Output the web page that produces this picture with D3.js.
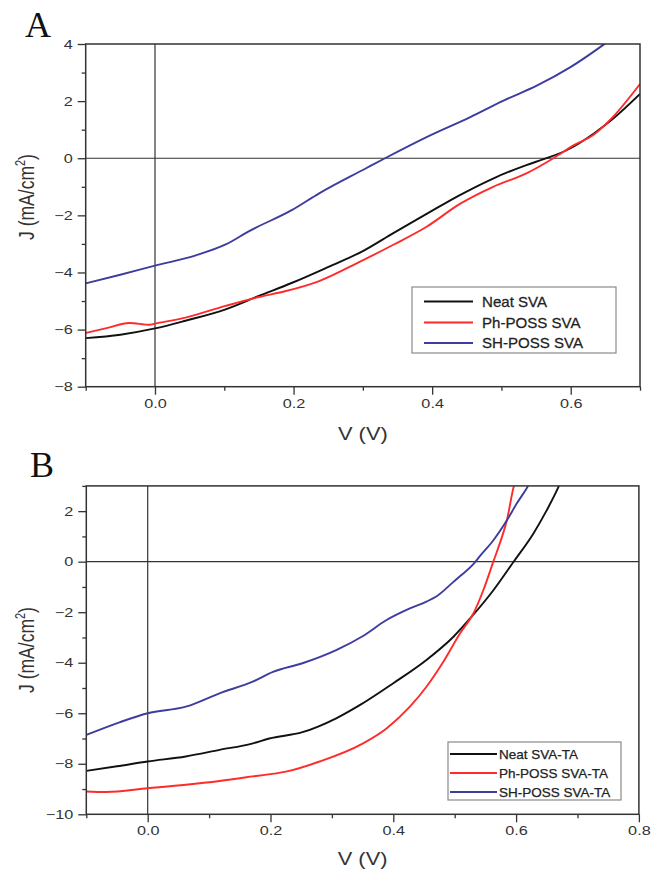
<!DOCTYPE html>
<html>
<head>
<meta charset="utf-8">
<script src="https://cdn.jsdelivr.net/npm/d3@7/dist/d3.min.js"></script>
<style>
  html, body { margin: 0; padding: 0; background: #fff; }
  svg { display: block; }
  text { font-family: "Liberation Sans", Arial, Helvetica, sans-serif; }
</style>
</head>
<body>
<svg id="chart" width="651" height="870"></svg>
<script>
// ---- Panel A: J–V curves after solvent vapour annealing ----
const seriesNamesA = ["Neat SVA", "Ph-POSS SVA", "SH-POSS SVA"];
const neatSvaV = [-0.1, -0.05, 0, 0.044, 0.102, 0.15, 0.198, 0.247, 0.30, 0.344, 0.392, 0.44, 0.488, 0.536, 0.565, 0.594, 0.633, 0.661, 0.7];
const neatSvaJ = [-6.30, -6.18, -5.96, -5.69, -5.29, -4.82, -4.36, -3.84, -3.25, -2.62, -1.95, -1.29, -0.71, -0.24, 0.0, 0.28, 0.86, 1.38, 2.25];
const phSvaV = [-0.1, -0.07, -0.037, -0.008, 0, 0.044, 0.102, 0.15, 0.189, 0.237, 0.296, 0.344, 0.392, 0.44, 0.488, 0.536, 0.575, 0.604, 0.633, 0.661, 0.7];
const phSvaJ = [-6.12, -5.95, -5.77, -5.83, -5.79, -5.58, -5.17, -4.86, -4.65, -4.30, -3.62, -3.03, -2.40, -1.60, -1.00, -0.53, 0.0, 0.45, 0.82, 1.45, 2.6];
const shSvaV = [-0.1, -0.05, 0, 0.059, 0.102, 0.136, 0.198, 0.237, 0.304, 0.332, 0.392, 0.455, 0.503, 0.551, 0.599, 0.647, 0.66];
const shSvaJ = [-4.38, -4.08, -3.76, -3.40, -3.02, -2.55, -1.81, -1.23, -0.36, 0.0, 0.74, 1.44, 2.02, 2.54, 3.18, 3.97, 4.2];

// ---- Panel B: J–V curves after solvent vapour + thermal annealing ----
const seriesNamesB = ["Neat SVA-TA", "Ph-POSS SVA-TA", "SH-POSS SVA-TA"];
const neatTaV = [-0.1, -0.05, 0, 0.062, 0.117, 0.17, 0.198, 0.252, 0.307, 0.346, 0.40, 0.454, 0.498, 0.530, 0.563, 0.596, 0.628, 0.650, 0.669, 0.675];
const neatTaJ = [-8.28, -8.1, -7.91, -7.71, -7.45, -7.2, -7.0, -6.75, -6.2, -5.67, -4.81, -3.89, -2.97, -2.11, -1.13, 0.0, 1.11, 2.04, 2.96, 3.3];
const phTaV = [-0.1, -0.068, 0, 0.062, 0.117, 0.171, 0.225, 0.28, 0.35, 0.389, 0.427, 0.454, 0.4815, 0.5086, 0.5304, 0.5466, 0.5629, 0.5792, 0.5846, 0.5968, 0.603];
const phTaJ = [-9.1, -9.12, -8.97, -8.83, -8.68, -8.5, -8.31, -7.91, -7.2, -6.6, -5.74, -4.95, -3.96, -2.84, -2.05, -1.13, 0.0, 1.15, 1.6, 3.03, 3.4];
const shTaV = [-0.1, -0.046, 0, 0.062, 0.117, 0.171, 0.204, 0.252, 0.307, 0.35, 0.389, 0.427, 0.454, 0.470, 0.498, 0.509, 0.530, 0.541, 0.563, 0.585, 0.601, 0.620, 0.626];
const shTaJ = [-6.86, -6.36, -6.0, -5.74, -5.21, -4.75, -4.36, -4.02, -3.5, -2.95, -2.31, -1.85, -1.58, -1.38, -0.8, -0.57, -0.11, 0.22, 0.85, 1.64, 2.3, 3.02, 3.3];

// ---- Axis ticks ----
const xMajorA = [0.0, 0.2, 0.4, 0.6];
const xMinorA = [-0.1, 0.1, 0.3, 0.5, 0.7];
const yMajorA = [-8, -6, -4, -2, 0, 2, 4];
const yMinorA = [-7, -5, -3, -1, 1, 3];
const xMajorB = [0.0, 0.2, 0.4, 0.6, 0.8];
const xMinorB = [-0.1, 0.1, 0.3, 0.5, 0.7];
const yMajorB = [-10, -8, -6, -4, -2, 0, 2];
const yMinorB = [-9, -7, -5, -3, -1, 1, 3];

const seriesColors = ["#111111", "#ff2b2b", "#3d3d9e"];
const ink = "#333333";
const svg = d3.select("#chart");

function zip(vs, js) { return vs.map((v, i) => ({ v: v, j: js[i] })); }

function drawPanel(p) {
  const x = d3.scaleLinear().domain(p.xDomain).range([p.left, p.right]);
  const y = d3.scaleLinear().domain(p.yDomain).range([p.bottom, p.top]);
  const g = svg.append("g");

  // clip for the curves
  const clipId = "clip-" + p.id;
  svg.append("defs").append("clipPath").attr("id", clipId)
    .append("rect").attr("x", p.left).attr("y", p.top)
    .attr("width", p.right - p.left).attr("height", p.bottom - p.top);

  // zero lines
  g.append("line").attr("x1", p.left).attr("x2", p.right)
    .attr("y1", y(0)).attr("y2", y(0)).attr("stroke", ink).attr("stroke-width", 1.2);
  g.append("line").attr("x1", x(0)).attr("x2", x(0))
    .attr("y1", p.top).attr("y2", p.bottom).attr("stroke", ink).attr("stroke-width", 1.2);

  // curves
  const line = d3.line().x(d => x(d.v)).y(d => y(d.j)).curve(d3.curveMonotoneX);
  const curves = g.append("g").attr("clip-path", `url(#${clipId})`);
  p.series.forEach((s, i) => {
    curves.append("path").datum(s).attr("d", line)
      .attr("fill", "none").attr("stroke", seriesColors[i])
      .attr("stroke-width", 1.9).attr("stroke-linejoin", "round");
  });

  // axes: major ticks with labels, minor ticks without
  const xAxis = d3.axisBottom(x).tickValues(p.xMajor).tickFormat(d3.format(".1f"))
    .tickSize(8).tickPadding(4);
  const xAxisMinor = d3.axisBottom(x).tickValues(p.xMinor).tickFormat("").tickSize(4);
  const yAxis = d3.axisLeft(y).tickValues(p.yMajor).tickFormat(d3.format("d"))
    .tickSize(8).tickPadding(5);
  const yAxisMinor = d3.axisLeft(y).tickValues(p.yMinor).tickFormat("").tickSize(4);

  [[xAxis, "b"], [xAxisMinor, "b"], [yAxis, "l"], [yAxisMinor, "l"]].forEach(([ax, side]) => {
    const a = g.append("g")
      .attr("transform", side === "b" ? `translate(0,${p.bottom})` : `translate(${p.left},0)`)
      .call(ax);
    a.select(".domain").remove();
    a.selectAll(".tick line").attr("stroke", ink).attr("stroke-width", 1.3);
    a.selectAll(".tick text")
      .attr("fill", ink)
      .style("font-size", "12.5px")
      .attr("transform", "scale(1.3,1)");
    if (side === "l") a.selectAll(".tick text").attr("x", -13 / 1.3);
  });

  // frame
  g.append("rect").attr("x", p.left).attr("y", p.top)
    .attr("width", p.right - p.left).attr("height", p.bottom - p.top)
    .attr("fill", "none").attr("stroke", ink).attr("stroke-width", 1.5);

  // axis titles
  g.append("text")
    .attr("transform", `translate(${(p.left + p.right) / 2},${p.xTitleY}) scale(1.25,1)`)
    .attr("text-anchor", "middle").attr("fill", ink).style("font-size", "17.5px")
    .text("V (V)");
  const yt = g.append("text")
    .attr("transform", `translate(34,${p.yTitleY}) scale(1.25,1) rotate(-90)`)
    .attr("text-anchor", "middle").attr("fill", ink).style("font-size", "17.5px");
  yt.append("tspan").text("J (mA/cm");
  yt.append("tspan").attr("dy", -7).style("font-size", "11px").text("2");
  yt.append("tspan").attr("dy", 7).text(")");

  // panel letter
  g.append("text").attr("x", p.letterX).attr("y", p.letterY)
    .style("font-family", "'Liberation Serif', 'Times New Roman', serif")
    .style("font-size", "36px").attr("fill", "#111").text(p.letter);

  // legend
  const L = p.legend;
  g.append("rect").attr("x", L.x).attr("y", L.y).attr("width", L.w).attr("height", L.h)
    .attr("fill", "#fff").attr("stroke", "#8a8a8a").attr("stroke-width", 1.2);
  p.names.forEach((name, i) => {
    const cy = L.rowY[i];
    g.append("line").attr("x1", L.lineX0).attr("x2", L.lineX1).attr("y1", cy).attr("y2", cy)
      .attr("stroke", seriesColors[i]).attr("stroke-width", 2.2);
    g.append("text")
      .attr("transform", `translate(${L.textX},${cy}) scale(${L.stretch},1)`)
      .attr("dy", "0.36em")
      .attr("fill", "#222").attr("stroke", "#222").attr("stroke-width", 0.25)
      .style("font-size", L.fontSize).text(name);
  });
}

drawPanel({
  id: "a", letter: "A", letterX: 25, letterY: 37,
  left: 85.7, right: 640, top: 44, bottom: 386.7,
  xDomain: [-0.1, 0.7], yDomain: [-8, 4],
  xMajor: xMajorA, xMinor: xMinorA, yMajor: yMajorA, yMinor: yMinorA,
  series: [zip(neatSvaV, neatSvaJ), zip(phSvaV, phSvaJ), zip(shSvaV, shSvaJ)],
  names: seriesNamesA,
  xTitleY: 440, yTitleY: 197,
  legend: { x: 412, y: 287, w: 204, h: 66, lineX0: 424, lineX1: 473, textX: 482,
            rowY: [301.5, 322.5, 343], fontSize: "14.5px", stretch: 1.04 }
});

drawPanel({
  id: "b", letter: "B", letterX: 30, letterY: 477,
  left: 86.3, right: 638.9, top: 485.9, bottom: 814.3,
  xDomain: [-0.1, 0.8], yDomain: [-10, 3],
  xMajor: xMajorB, xMinor: xMinorB, yMajor: yMajorB, yMinor: yMinorB,
  series: [zip(neatTaV, neatTaJ), zip(phTaV, phTaJ), zip(shTaV, shTaJ)],
  names: seriesNamesB,
  xTitleY: 865, yTitleY: 650,
  legend: { x: 448, y: 742, w: 173, h: 58, lineX0: 450, lineX1: 497, textX: 499,
            rowY: [754, 773, 792], fontSize: "13.5px", stretch: 1.0 }
});
</script>
</body>
</html>
